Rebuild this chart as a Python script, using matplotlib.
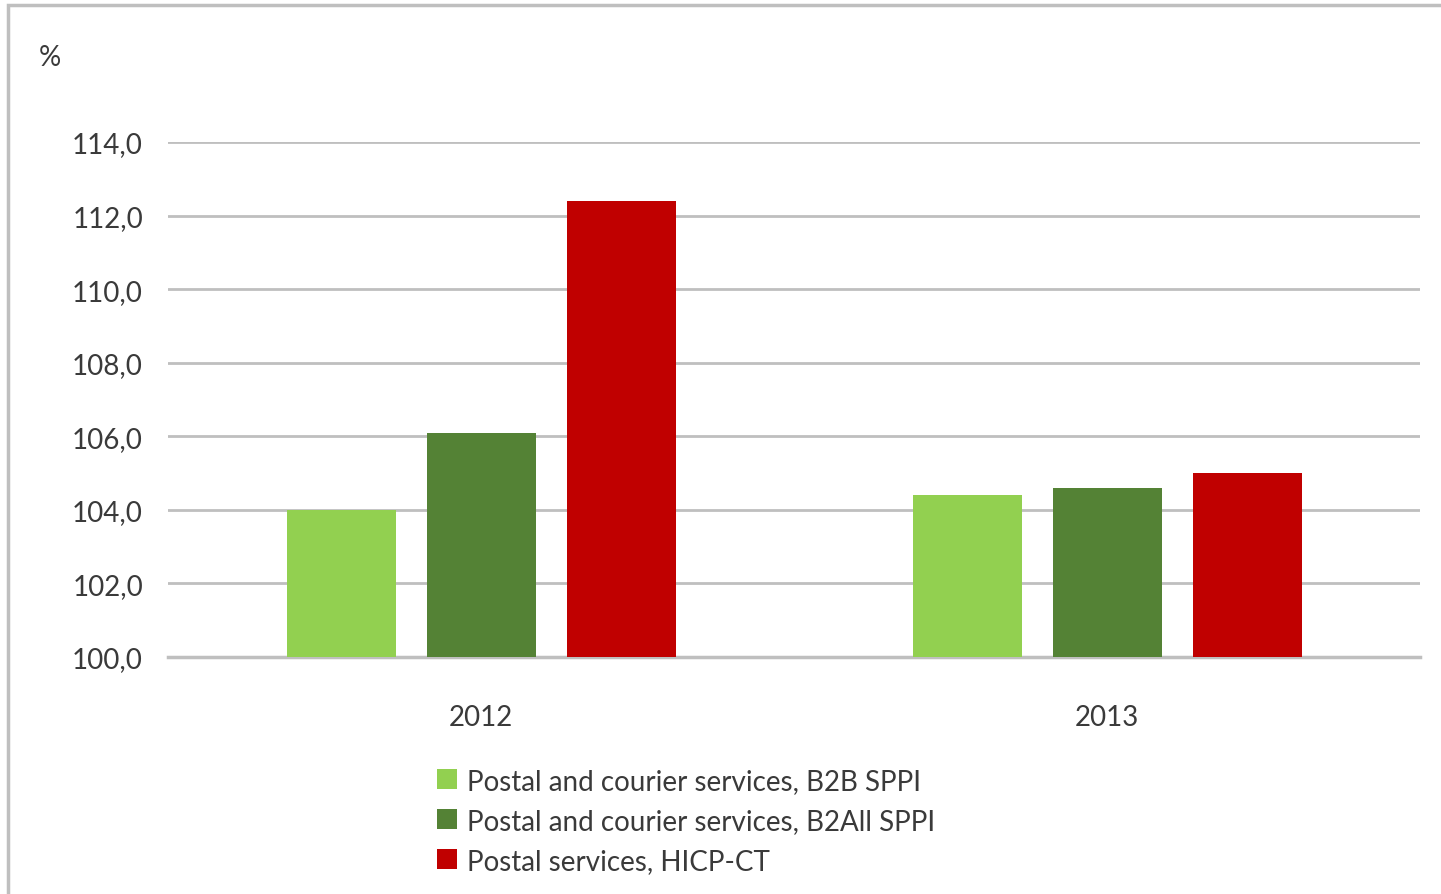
import matplotlib
matplotlib.use("Agg")
import matplotlib.pyplot as plt
import numpy as np
from matplotlib.patches import Rectangle

categories = ["2012", "2013"]
series_names = [
    "Postal and courier services, B2B SPPI",
    "Postal and courier services, B2All SPPI",
    "Postal services, HICP-CT",
]
b2b = [104.0, 104.4]
b2all = [106.1, 104.6]
hicp = [112.4, 105.0]
yticks = [100, 102, 104, 106, 108, 110, 112, 114]

colors = ["#92D050", "#548235", "#C00000"]

plt.rcParams['font.family'] = ['Lato', 'DejaVu Sans']

W, H = 1441, 895
fig = plt.figure(figsize=(W / 100, H / 100), dpi=100)
ax = fig.add_axes([168 / W, 1 - 658 / H, (1420 - 168) / W, (658 - 143) / H])

# outer frame
fig.patches.append(Rectangle((8 / W, -0.1), 1.2, (1 - 6 / H) + 0.1, transform=fig.transFigure,
                             fill=False, edgecolor="#BFBFBF", linewidth=2.5, zorder=0))

x = np.arange(len(categories))
width = 109 / 626
step = 140 / 626
base = 100
for i, (vals, c, name) in enumerate(zip([b2b, b2all, hicp], colors, series_names)):
    ax.bar(x + (i - 1) * step, np.array(vals) - base, bottom=base, width=width,
           color=c, label=name, zorder=3)

ax.set_xlim(-0.5, 1.5)
ax.set_ylim(100, 114)
ax.set_yticks(yticks)
ax.set_yticklabels([f"{v:.1f}".replace(".", ",") for v in yticks])
ax.set_xticks(x)
ax.set_xticklabels(categories)
ax.tick_params(axis="both", length=0, labelsize=20, colors="#3A3A3A")
ax.tick_params(axis="y", pad=18)
ax.tick_params(axis="x", pad=33.5)
ax.grid(axis="y", color="#BFBFBF", linewidth=2, zorder=0)
ax.set_axisbelow(True)
for s in ["top", "right", "left"]:
    ax.spines[s].set_visible(False)
ax.spines["bottom"].set_color("#BFBFBF")
ax.spines["bottom"].set_linewidth(2.5)
ax.spines["bottom"].set_zorder(2)

fig.text(39 / W, 1 - 58 / H, "%", fontsize=20, color="#3A3A3A", va="center", ha="left")

handles, labels = ax.get_legend_handles_labels()
leg = fig.legend(handles, labels, loc="upper left", bbox_to_anchor=(437 / W, 1 - 769 / H),
                 frameon=False, fontsize=20, handlelength=0.72, handleheight=0.72,
                 handletextpad=0.35, labelspacing=0.5, borderaxespad=0, borderpad=0)
for t in leg.get_texts():
    t.set_color("#3A3A3A")

fig.savefig("out.png", dpi=100)
